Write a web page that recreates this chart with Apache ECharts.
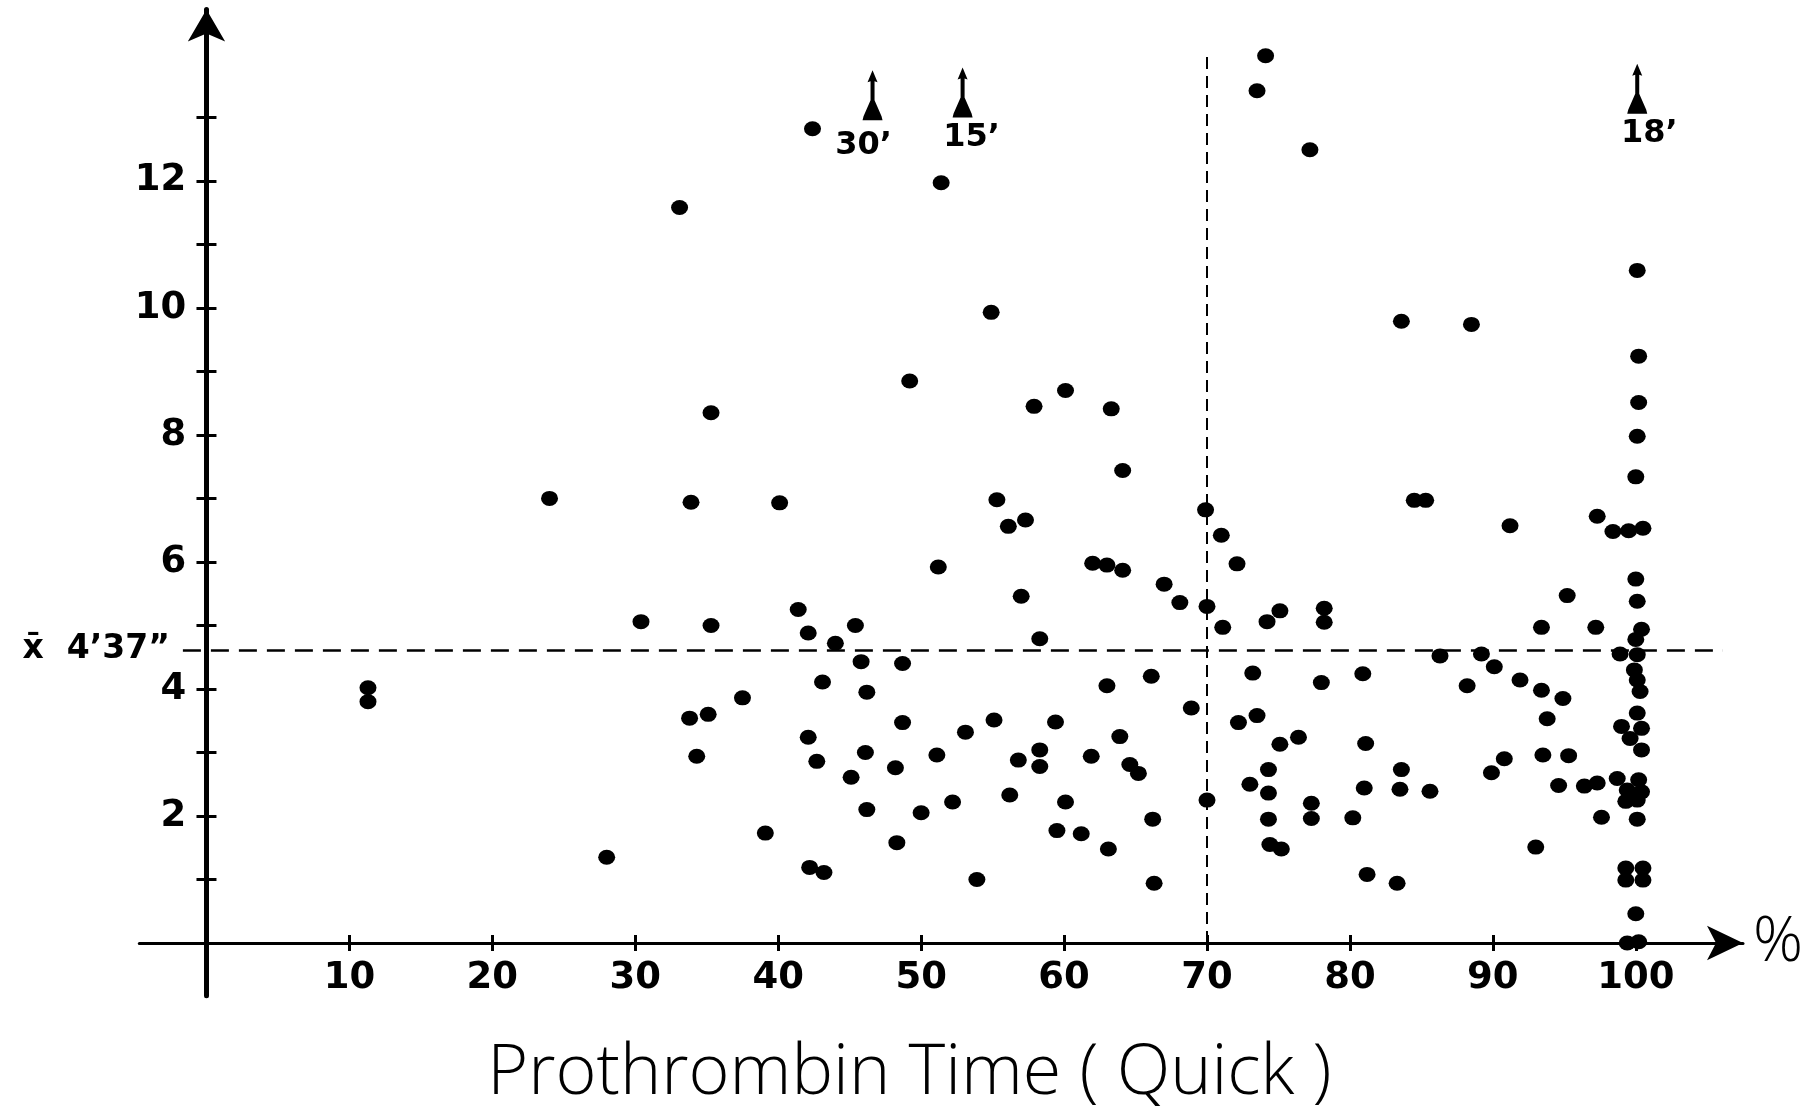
<!DOCTYPE html>
<html><head><meta charset="utf-8">
<script src="https://cdn.jsdelivr.net/npm/echarts@6/dist/echarts.min.js"></script>
<style>html,body{margin:0;padding:0;background:#fff}#c{width:1819px;height:1107px}</style>
</head><body><div id="c"></div>
<script>
// ---- data ----
const quickPct = [
 11.3,11.3,24.0,28.0,30.4,33.1,33.9,33.8,34.3,35.1,35.3,35.3,37.5,39.1,40.1,41.4,42.1,42.1,42.2,42.4,
 42.7,43.1,43.2,44.0,45.1,45.4,45.8,46.1,46.2,46.2,48.2,48.3,48.7,48.7,49.2,50.0,51.1,51.2,51.4,52.2,
 53.1,53.9,54.9,55.1,55.3,56.1,56.2,56.8,57.0,57.3,57.9,58.3,58.3,58.3,59.4,59.5,60.1,60.1,61.2,61.9,
 62.0,63.0,63.0,63.1,63.3,63.9,64.1,64.1,64.6,65.2,66.1,66.2,66.3,67.0,68.1,68.9,69.9,70.0,70.0,71.0,
 71.1,72.1,72.2,73.0,73.2,73.5,73.5,74.1,74.2,74.3,74.3,74.3,74.4,75.1,75.1,75.2,76.4,77.2,77.3,77.3,
 78.0,78.2,78.2,80.2,80.9,81.0,81.1,81.2,83.3,83.5,83.6,83.6,84.5,85.3,85.6,86.3,88.2,88.5,89.2,89.9,
 90.1,90.8,91.2,91.9,93.0,93.4,93.4,93.5,93.8,94.6,94.9,95.2,95.3,96.4,97.2,97.3,97.3,97.6,98.4,98.7,
 98.9,99.0,99.3,99.3,99.3,99.4,99.4,99.5,99.6,99.9,100.0,100.0,100.0,100.1,100.2,100.2,100.1,100.0,100.1,100.1,
 100.1,100.1,100.1,100.1,100.2,100.2,100.3,100.4,100.4,100.4,100.4,100.5,100.5,100.5
];
const bleedMin = [
 4.02,3.80,7.00,1.35,5.06,11.58,6.94,3.54,2.94,3.60,8.35,5.00,3.86,1.73,6.93,5.25,4.88,3.24,1.19,12.82,
 2.86,4.11,1.11,4.72,2.61,5.00,4.43,3.00,3.95,2.10,2.76,1.58,4.40,3.47,8.85,2.05,2.96,5.92,11.97,2.22,
 3.32,1.00,9.93,3.51,6.98,6.56,2.33,2.88,5.46,6.66,8.45,4.79,3.04,2.78,3.48,1.77,8.70,2.22,1.72,2.94,
 5.98,5.95,4.05,1.48,8.41,3.25,7.44,5.87,2.81,2.67,4.20,1.95,0.94,5.65,5.36,3.70,6.82,5.30,2.25,6.42,
 4.97,5.97,3.47,2.50,4.25,13.42,3.58,13.97,5.06,2.73,2.36,1.95,1.55,5.23,3.13,1.48,3.24,12.49,2.20,1.96,
 4.10,5.27,5.05,1.97,4.24,2.44,3.14,1.08,0.94,2.42,9.79,2.73,6.97,6.97,2.39,4.52,4.05,9.74,4.55,2.68,
 4.35,2.90,6.57,4.14,1.51,4.97,3.98,2.96,3.53,2.48,3.85,5.47,2.95,2.47,4.97,6.72,2.52,1.98,6.48,2.59,
 4.55,3.41,2.23,1.18,0.99,2.41,0.00,6.49,3.22,4.30,5.73,4.78,0.46,10.59,9.24,8.51,7.98,7.34,5.38,4.54,
 4.14,3.62,2.25,1.95,2.57,0.02,3.96,4.94,3.38,3.04,2.38,6.53,1.18,0.99
];
const xTickValues = [10,20,30,40,50,60,70,80,90,100];
const yTickValues = [1,2,3,4,5,6,7,8,9,10,11,12,13];
const yLabelValues = [2,4,6,8,10,12];
const meanValue = 4.617;           // 4'37"
const meanLabel = 'x\u0304  4\u201937\u201D';
const cutoffPct = 70;
const offscaleX = [46.6, 52.9, 100.1];
const offscaleY = [13.35, 13.39, 13.45];
const offscaleText = ['30\u2019', '15\u2019', '18\u2019'];
const xTitle = 'Prothrombin Time ( Quick )';
const xUnit = '%';

// ---- styles ----
const INK = '#000';
const tickFont = { color: INK, fontFamily: 'DejaVu Sans', fontWeight: 'bold', fontSize: 37 };
const dot = 'path://M0 8a8 8 0 1 0 16 0a8 8 0 1 0 -16 0z';
const arrowPath = 'path://M10 0 L15 12 L12 11 L12 30 L19 46 L20 50 L0 50 L1 46 L8 30 L8 11 L5 12 Z';
const offscaleLabelShift = [[-9, 6], [9, 0], [12, 0]];

const points = quickPct.map((x, i) => [x, bleedMin[i]]);
const offscale = offscaleX.map((x, i) => ({
  value: [x, offscaleY[i]], name: offscaleText[i],
  label: { offset: offscaleLabelShift[i] }
}));

const chart = echarts.init(document.getElementById('c'), null, { renderer: 'canvas' });
const X_MIN = -4.7, X_MAX = 107.5, Y_MIN = -0.83, Y_MAX = 14.70;
const tickLine = { color: INK, width: 3 };
chart.setOption({
  animation: false,
  backgroundColor: '#fff',
  grid: { left: 139.3, top: 9.4, width: 1603.7, height: 986.3 },
  title: {
    text: xTitle, left: 'center', top: 1034,
    textStyle: { fontFamily: 'Open Sans', fontWeight: 300, fontSize: 70, color: INK }
  },
  xAxis: [{
    type: 'value', min: X_MIN, max: X_MAX, position: 'bottom',
    axisLine: { show: true, onZero: true, symbol: ['none', 'arrow'], symbolSize: [26, 36],
      lineStyle: { color: INK, width: 3 } },
    axisTick: { show: true, inside: true, customValues: xTickValues, length: 8, lineStyle: tickLine },
    axisLabel: { show: true, customValues: xTickValues, margin: -36, ...tickFont },
    splitLine: { show: false },
    name: xUnit, nameLocation: 'end', nameGap: 10,
    nameTextStyle: { fontFamily: 'Open Sans', fontWeight: 300, fontSize: 62, color: INK, verticalAlign: 'middle' }
  }, {
    type: 'value', min: X_MIN, max: X_MAX, position: 'bottom',
    axisLine: { show: false, onZero: true, onZeroAxisIndex: 0 },
    axisTick: { show: true, inside: false, customValues: xTickValues, length: 8, lineStyle: tickLine },
    axisLabel: { show: false }, splitLine: { show: false }
  }],
  yAxis: [{
    type: 'value', min: Y_MIN, max: Y_MAX, position: 'left',
    axisLine: { show: true, onZero: true, symbol: ['none', 'arrow'], symbolSize: [28, 32],
      lineStyle: { color: INK, width: 5 } },
    axisTick: { show: true, customValues: yTickValues, length: 10, lineStyle: tickLine },
    axisLabel: { show: true, customValues: yLabelValues, margin: -47, ...tickFont },
    splitLine: { show: false }
  }, {
    type: 'value', min: Y_MIN, max: Y_MAX, position: 'right',
    axisLine: { show: false, onZero: true, onZeroAxisIndex: 0 },
    axisTick: { show: true, customValues: yTickValues, length: 10, lineStyle: tickLine },
    axisLabel: { show: false }, splitLine: { show: false }
  }],
  series: [{
    type: 'scatter', name: 'patients', data: points,
    symbol: dot, symbolSize: [17, 15],
    itemStyle: { color: INK, opacity: 1 },
    emphasis: { disabled: true },
    markLine: {
      silent: true, symbol: 'none', animation: false,
      data: [
        [{ coord: [-1.65, meanValue], lineStyle: { type: [18, 10], width: 2.5, color: INK },
           label: { show: true, position: 'start', distance: 13, formatter: meanLabel,
                    color: INK, fontFamily: 'DejaVu Sans', fontWeight: 'bold', fontSize: 33 } },
         { coord: [106.1, meanValue] }],
        [{ coord: [cutoffPct, 0], lineStyle: { type: [12, 7], width: 2, color: INK }, label: { show: false } },
         { coord: [cutoffPct, 14.0] }]
      ]
    }
  }, {
    type: 'scatter', name: 'off scale', data: offscale,
    symbol: arrowPath, symbolSize: [20, 50],
    itemStyle: { color: INK, opacity: 1 },
    emphasis: { disabled: true },
    label: { show: true, position: 'bottom', distance: 4, formatter: '{b}',
             color: INK, fontFamily: 'DejaVu Sans', fontWeight: 'bold', fontSize: 32 }
  }]
});
</script></body></html>
